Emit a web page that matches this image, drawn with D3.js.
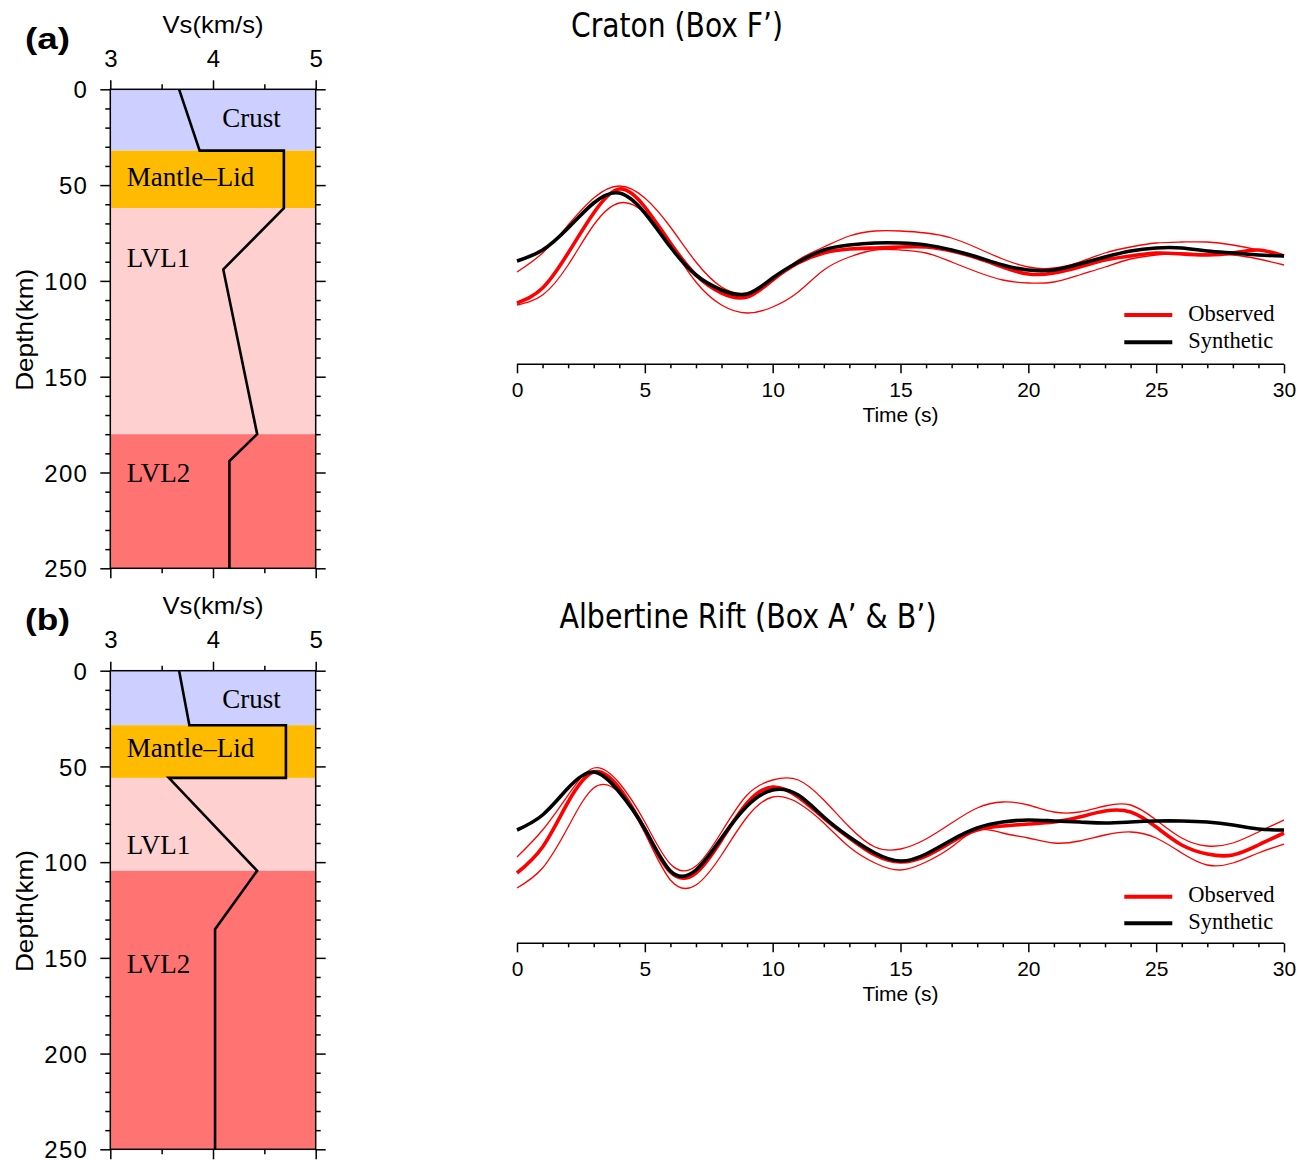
<!DOCTYPE html>
<html>
<head>
<meta charset="utf-8">
<script src="https://cdn.jsdelivr.net/npm/d3@7"></script>
<style>
  body { margin: 0; background: #fff; }
</style>
</head>
<body>
<svg id="chart" width="1307" height="1160"></svg>
<script>
// ---- velocity models ----
const layerNames = ['Crust', 'Mantle\u2013Lid', 'LVL1', 'LVL2'];
const layerColors = ['#cdd0ff', '#ffbb00', '#ffd0d0', '#ff7373'];

const layerTopA = [0, 32, 62, 180];
const layerBotA = [32, 62, 180, 250];
const vsA    = [3.67, 3.87, 4.69, 4.69, 4.10, 4.43, 4.16, 4.16];
const depthA = [0, 32, 32, 62, 94, 180, 194, 250];

const layerTopB = [0, 28.5, 56, 104.5];
const layerBotB = [28.5, 56, 104.5, 250];
const vsB    = [3.67, 3.77, 4.71, 4.71, 3.57, 4.43, 4.02, 4.02];
const depthB = [0, 28.5, 28.5, 56, 56, 104.5, 135, 250];

const vsTicks = [3, 4, 5];
const vsMinor = [3.5, 4.5];
const depthTicks = [0, 50, 100, 150, 200, 250];
const depthMinor = [10, 20, 30, 40, 60, 70, 80, 90, 110, 120, 130, 140, 160, 170, 180, 190, 210, 220, 230, 240];

// ---- waveforms (normalised amplitude, one sample per second) ----
const timeSec = [0, 1, 2, 3, 4, 5, 6, 7, 8, 9, 10, 11, 12, 13, 14, 15, 16, 17, 18, 19, 20, 21, 22, 23, 24, 25, 26, 27, 28, 29, 30];
const timeTicks = [0, 5, 10, 15, 20, 25, 30];

const synA   = [-0.06, 0.05, 0.27, 0.52, 0.62, 0.42, 0.08, -0.20, -0.35, -0.39, -0.23, -0.07, 0.05, 0.10, 0.12, 0.12, 0.10, 0.05, -0.02, -0.10, -0.15, -0.15, -0.09, -0.02, 0.04, 0.07, 0.07, 0.04, 0.02, 0.00, -0.01];
const obsA   = [-0.48, -0.33, 0.02, 0.42, 0.66, 0.48, 0.12, -0.20, -0.38, -0.42, -0.25, -0.08, 0.02, 0.06, 0.07, 0.08, 0.08, 0.04, -0.03, -0.12, -0.19, -0.18, -0.12, -0.05, -0.01, 0.02, 0.01, 0.00, 0.02, 0.05, -0.01];
const obsHiA = [-0.17, 0.02, 0.30, 0.57, 0.69, 0.57, 0.28, -0.07, -0.32, -0.38, -0.25, -0.05, 0.08, 0.19, 0.24, 0.24, 0.22, 0.17, 0.07, -0.04, -0.12, -0.13, -0.07, 0.02, 0.08, 0.12, 0.13, 0.13, 0.10, 0.05, -0.01];
const obsLoA = [-0.50, -0.40, -0.10, 0.30, 0.52, 0.42, 0.10, -0.27, -0.50, -0.58, -0.52, -0.37, -0.15, -0.02, 0.05, 0.05, 0.02, -0.07, -0.17, -0.25, -0.28, -0.27, -0.20, -0.12, -0.04, 0.00, 0.02, 0.01, 0.00, -0.04, -0.10];

const synB   = [0.05, 0.20, 0.47, 0.63, 0.43, 0.06, -0.36, -0.35, -0.03, 0.29, 0.45, 0.40, 0.18, -0.02, -0.18, -0.26, -0.19, -0.05, 0.07, 0.13, 0.15, 0.14, 0.13, 0.12, 0.13, 0.14, 0.14, 0.13, 0.10, 0.06, 0.05];
const obsB   = [-0.38, -0.12, 0.33, 0.63, 0.47, 0.05, -0.37, -0.38, -0.05, 0.32, 0.48, 0.38, 0.17, -0.03, -0.20, -0.27, -0.21, -0.07, 0.05, 0.09, 0.11, 0.13, 0.18, 0.24, 0.23, 0.08, -0.10, -0.19, -0.20, -0.10, 0.02];
const obsHiB = [-0.22, 0.05, 0.40, 0.67, 0.52, 0.13, -0.29, -0.31, 0.03, 0.40, 0.55, 0.55, 0.35, 0.08, -0.12, -0.14, -0.04, 0.12, 0.27, 0.33, 0.30, 0.23, 0.23, 0.29, 0.30, 0.15, -0.03, -0.11, -0.08, 0.03, 0.15];
const obsLoB = [-0.53, -0.33, 0.08, 0.47, 0.42, 0.02, -0.45, -0.50, -0.20, 0.18, 0.38, 0.32, 0.12, -0.12, -0.28, -0.35, -0.27, -0.12, 0.05, 0.02, -0.03, -0.08, -0.06, 0.00, 0.03, -0.03, -0.18, -0.30, -0.28, -0.18, -0.09];

const SANS = "'Liberation Sans', Arial, Helvetica, sans-serif";
const SERIF = "'Liberation Serif', 'Times New Roman', serif";

const svg = d3.select('#chart');

function styleAxis(g, size) {
    g.select('.domain').remove();
    g.selectAll('.tick line').attr('stroke', '#000').attr('stroke-width', 1.5);
    g.selectAll('.tick text')
        .attr('fill', '#000')
        .attr('font-family', SANS)
        .attr('font-size', size);
}

function drawProfile(p) {
    const x = d3.scaleLinear().domain([3, 5]).range([110.3, 315.7]);
    const y = d3.scaleLinear().domain([0, 250]).range([p.top, p.bottom]);
    const g = svg.append('g');

    g.selectAll('rect.layer')
        .data(layerNames)
        .join('rect')
        .attr('class', 'layer')
        .attr('x', x(3))
        .attr('width', x(5) - x(3))
        .attr('y', (d, i) => y(p.layerTop[i]))
        .attr('height', (d, i) => y(p.layerBot[i]) - y(p.layerTop[i]))
        .attr('fill', (d, i) => layerColors[i]);

    g.selectAll('text.layer')
        .data(layerNames)
        .join('text')
        .attr('class', 'layer')
        .attr('x', (d, i) => x(p.labelVs[i]))
        .attr('y', (d, i) => y(p.labelDepth[i]))
        .attr('font-family', SERIF)
        .attr('font-size', 27)
        .attr('fill', '#000')
        .text(d => d);

    const line = d3.line().x(d => x(d[0])).y(d => y(d[1]));
    g.append('path')
        .datum(p.vs.map((v, i) => [v, p.depth[i]]))
        .attr('d', line)
        .attr('fill', 'none')
        .attr('stroke', '#000')
        .attr('stroke-width', 2.6)
        .attr('stroke-linejoin', 'miter');

    // frame
    g.append('rect')
        .attr('x', x(3)).attr('y', y(0))
        .attr('width', x(5) - x(3)).attr('height', y(250) - y(0))
        .attr('fill', 'none').attr('stroke', '#000').attr('stroke-width', 1.5);

    // top axis with labels
    g.append('g').attr('transform', `translate(0,${y(0)})`)
        .call(d3.axisTop(x).tickValues(vsTicks).tickSize(9).tickPadding(13.3).tickFormat(d3.format('d')))
        .call(a => styleAxis(a, 24));
    g.append('g').attr('transform', `translate(0,${y(0)})`)
        .call(d3.axisTop(x).tickValues(vsMinor).tickSize(5).tickFormat(''))
        .call(a => styleAxis(a, 24));
    // bottom axis ticks only
    g.append('g').attr('transform', `translate(0,${y(250)})`)
        .call(d3.axisBottom(x).tickValues(vsTicks).tickSize(10).tickFormat(''))
        .call(a => styleAxis(a, 24));
    g.append('g').attr('transform', `translate(0,${y(250)})`)
        .call(d3.axisBottom(x).tickValues(vsMinor).tickSize(5).tickFormat(''))
        .call(a => styleAxis(a, 24));
    // left axis
    g.append('g').attr('transform', `translate(${x(3)},0)`)
        .call(d3.axisLeft(y).tickValues(depthTicks).tickSize(10).tickPadding(12.3).tickFormat(d3.format('d')))
        .call(a => styleAxis(a, 24))
        .call(a => a.selectAll('.tick text').attr('dy', '0.36em').attr('letter-spacing', 1.2));
    g.append('g').attr('transform', `translate(${x(3)},0)`)
        .call(d3.axisLeft(y).tickValues(depthMinor).tickSize(5).tickFormat(''))
        .call(a => styleAxis(a, 24));
    // right axis ticks only
    g.append('g').attr('transform', `translate(${x(5)},0)`)
        .call(d3.axisRight(y).tickValues(depthTicks).tickSize(10).tickFormat(''))
        .call(a => styleAxis(a, 24));
    g.append('g').attr('transform', `translate(${x(5)},0)`)
        .call(d3.axisRight(y).tickValues(depthMinor).tickSize(5).tickFormat(''))
        .call(a => styleAxis(a, 24));

    g.append('text')
        .attr('x', (x(3) + x(5)) / 2)
        .attr('y', y(0) - 56.5)
        .attr('text-anchor', 'middle')
        .attr('font-family', SANS)
        .attr('font-size', 24)
        .attr('textLength', 101)
        .attr('lengthAdjust', 'spacingAndGlyphs')
        .text('Vs(km/s)');

    g.append('text')
        .attr('transform', `translate(33,${(y(0) + y(250)) / 2 + 1}) rotate(-90)`)
        .attr('text-anchor', 'middle')
        .attr('font-family', SANS)
        .attr('font-size', 24)
        .attr('textLength', 122)
        .attr('lengthAdjust', 'spacingAndGlyphs')
        .text('Depth(km)');

    g.append('text')
        .attr('x', 25)
        .attr('y', p.top - 40.8)
        .attr('font-family', SANS)
        .attr('font-weight', 'bold')
        .attr('font-size', 30)
        .attr('textLength', 45)
        .attr('lengthAdjust', 'spacingAndGlyphs')
        .text(p.tag);
}

function drawWave(p) {
    const x = d3.scaleLinear().domain([0, 30]).range([517, 1284]);
    const y = d3.scaleLinear().domain([-1, 1]).range([p.center + 100, p.center - 100]);
    const g = svg.append('g');

    const line = d3.line()
        .x((d, i) => x(timeSec[i]))
        .y(d => y(d))
        .curve(d3.curveNatural);

    [p.obsHi, p.obsLo].forEach(s => {
        g.append('path').datum(s).attr('d', line)
            .attr('fill', 'none').attr('stroke', '#ff0000').attr('stroke-width', 1.3);
    });
    g.append('path').datum(p.obs).attr('d', line)
        .attr('fill', 'none').attr('stroke', '#ff0000').attr('stroke-width', 3.6);
    g.append('path').datum(p.syn).attr('d', line)
        .attr('fill', 'none').attr('stroke', '#000').attr('stroke-width', 3.6);

    // time axis
    g.append('line')
        .attr('x1', x(0)).attr('x2', x(30))
        .attr('y1', p.axisY).attr('y2', p.axisY)
        .attr('stroke', '#000').attr('stroke-width', 1.5);
    g.append('g').attr('transform', `translate(0,${p.axisY})`)
        .call(d3.axisBottom(x).tickValues(timeTicks).tickSize(9).tickPadding(8.5).tickFormat(d3.format('d')))
        .call(a => styleAxis(a, 21));
    g.append('g').attr('transform', `translate(0,${p.axisY})`)
        .call(d3.axisBottom(x).tickValues(timeSec.filter(t => t % 5 !== 0)).tickSize(4).tickFormat(''))
        .call(a => styleAxis(a, 21));

    g.append('text')
        .attr('x', x(15))
        .attr('y', p.axisY + 57.5)
        .attr('text-anchor', 'middle')
        .attr('font-family', SANS)
        .attr('font-size', 21)
        .text('Time (s)');

    g.append('text')
        .attr('x', p.titleX)
        .attr('y', p.titleY)
        .attr('text-anchor', 'middle')
        .attr('font-family', "'Liberation Sans Narrow', 'DejaVu Sans Condensed', " + SANS)
        .attr('font-size', 34)
        .attr('textLength', p.titleLen)
        .attr('lengthAdjust', 'spacingAndGlyphs')
        .text(p.title);

    // legend
    const legend = [
        { name: 'Observed', color: '#ff0000', dy: p.legendDy[0] },
        { name: 'Synthetic', color: '#000', dy: p.legendDy[1] }
    ];
    legend.forEach(l => {
        g.append('line')
            .attr('x1', 1124.3).attr('x2', 1172.3)
            .attr('y1', p.axisY - l.dy).attr('y2', p.axisY - l.dy)
            .attr('stroke', l.color).attr('stroke-width', 4);
        g.append('text')
            .attr('x', 1188.3)
            .attr('y', p.axisY - l.dy + 5.5)
            .attr('font-family', SERIF)
            .attr('font-size', 22.5)
            .text(l.name);
    });
}

drawProfile({
    tag: '(a)', top: 89.3, bottom: 568.3,
    layerTop: layerTopA, layerBot: layerBotA, vs: vsA, depth: depthA,
    labelVs: [4.09, 3.16, 3.16, 3.16], labelDepth: [19.8, 50.3, 92.6, 205.1]
});
drawProfile({
    tag: '(b)', top: 670.7, bottom: 1149.3,
    layerTop: layerTopB, layerBot: layerBotB, vs: vsB, depth: depthB,
    labelVs: [4.09, 3.16, 3.16, 3.16], labelDepth: [19.6, 44.9, 95.8, 157.8]
});

drawWave({
    center: 255, axisY: 364.3,
    syn: synA, obs: obsA, obsHi: obsHiA, obsLo: obsLoA,
    title: 'Craton (Box F\u2019)', titleX: 677, titleY: 37, titleLen: 212,
    legendDy: [49.3, 22]
});
drawWave({
    center: 835, axisY: 943.3,
    syn: synB, obs: obsB, obsHi: obsHiB, obsLo: obsLoB,
    title: 'Albertine Rift (Box A\u2019 & B\u2019)', titleX: 748, titleY: 628, titleLen: 377,
    legendDy: [46.6, 20]
});
</script>
</body>
</html>
